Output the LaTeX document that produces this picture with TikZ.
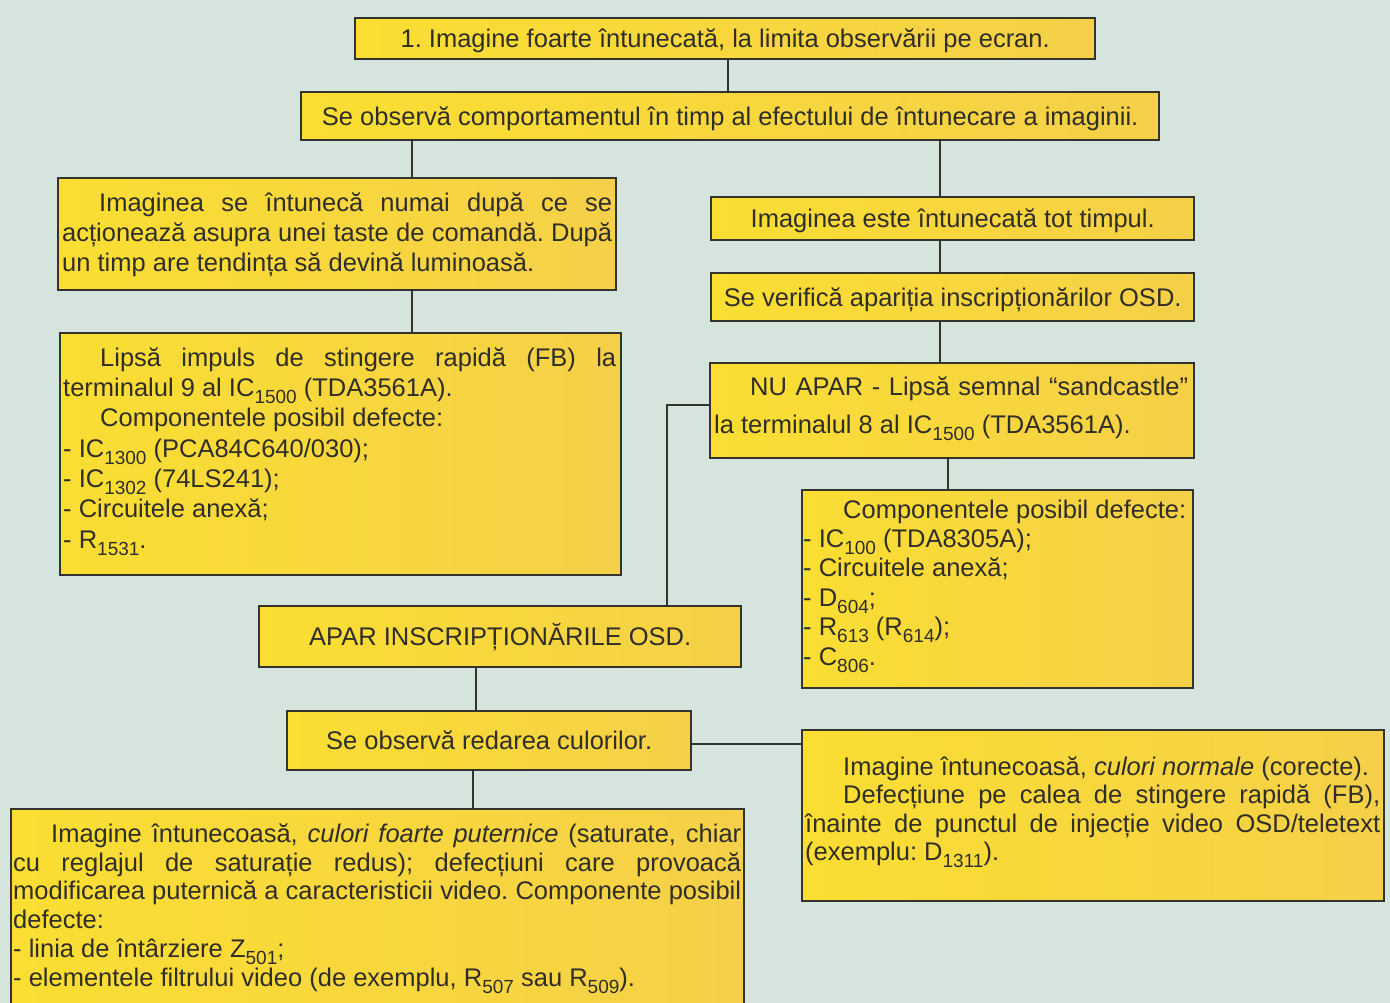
\documentclass[tikz,border=0pt]{standalone}
\usepackage{fontspec}
\setmainfont{Liberation Sans}
\definecolor{bgc}{RGB}{214,228,222}
\definecolor{yl}{RGB}{250,222,50}
\definecolor{yr}{RGB}{245,208,72}
\definecolor{bordc}{RGB}{52,52,46}
\definecolor{txtc}{RGB}{48,46,40}
\newcommand\sbx[1]{\raisebox{-7pt}{\fontsize{19}{19}\selectfont #1}}
\newcommand\jl[2]{\makebox[#1][s]{#2}}
\frenchspacing
\begin{document}
\begin{tikzpicture}[x=1pt,y=-1pt,
  box/.style={draw=bordc, line width=2.4pt, left color=yl, right color=yr, inner sep=0pt,
    anchor=north west, text=txtc, font=\fontsize{25.5}{30}\selectfont, text height=18pt, text depth=0pt},
  body/.style={anchor=north west, inner sep=0pt, align=left, text=txtc},
  wire/.style={draw=bordc, line width=2.2pt}]
\useasboundingbox (0,0) rectangle (1390,1003);
\fill[bgc] (0,0) rectangle (1390,1003);
\clip (0,0) rectangle (1390,1003);

% boxes
\node[box, minimum width=740pt, minimum height=41pt] (b1) at (354,17) {1. Imagine foarte întunecată, la limita observării pe ecran.};
\node[box, minimum width=858pt, minimum height=48pt] (b2) at (300,91) {Se observă comportamentul în timp al efectului de întunecare a imaginii.};
\node[box, minimum width=558pt, minimum height=112pt] (b3) at (57,177) {};
\node[box, minimum width=483pt, minimum height=43pt] (b4) at (710,196) {Imaginea este întunecată tot timpul.};
\node[box, minimum width=483pt, minimum height=48pt] (b5) at (710,272) {Se verifică apariția inscripționărilor OSD.};
\node[box, minimum width=484pt, minimum height=95pt] (b6) at (709,362) {};
\node[box, minimum width=391pt, minimum height=198pt] (b7) at (801,489) {};
\node[box, minimum width=561pt, minimum height=242pt] (b8) at (59,332) {};
\node[box, minimum width=482pt, minimum height=61pt] (b9) at (258,605) {APAR INSCRIPȚIONĂRILE OSD.};
\node[box, minimum width=404pt, minimum height=59pt] (b10) at (286,710) {Se observă redarea culorilor.};
\node[box, minimum width=582pt, minimum height=171pt] (b12) at (801,729) {};
\node[box, minimum width=733pt, minimum height=215pt] (b11) at (10,808) {};

% body texts
\node[body, font=\fontsize{25.5}{30.3}\selectfont, yshift=21.2pt] (t3) at (62,211) {\strut\jl{550pt}{\hspace*{37pt}Imaginea se întunecă numai după ce se}\\
\jl{550pt}{acționează asupra unei taste de comandă. După}\\
un timp are tendința să devină luminoasă.};

\node[body, font=\fontsize{25.5}{30.3}\selectfont, yshift=21.2pt] (t8) at (63,366) {\strut\jl{553pt}{\hspace*{37pt}Lipsă impuls de stingere rapidă (FB) la}\\
terminalul 9 al IC\sbx{1500} (TDA3561A).\\
\hspace*{37pt}Componentele posibil defecte:\\
- IC\sbx{1300} (PCA84C640/030);\\
- IC\sbx{1302} (74LS241);\\
- Circuitele anexă;\\
- R\sbx{1531}.};

\node[body, font=\fontsize{25.5}{38}\selectfont, yshift=26.6pt] (t6) at (714,395) {\strut\jl{474pt}{\hspace*{36pt}NU APAR - Lipsă semnal “sandcastle”}\\
la terminalul 8 al IC\sbx{1500} (TDA3561A).};

\node[body, font=\fontsize{25.5}{29.4}\selectfont, yshift=20.6pt] (t7) at (803,518) {\strut\hspace*{40pt}Componentele posibil defecte:\\
- IC\sbx{100} (TDA8305A);\\
- Circuitele anexă;\\
- D\sbx{604};\\
- R\sbx{613} (R\sbx{614});\\
- C\sbx{806}.};

\node[body, font=\fontsize{25.5}{28.5}\selectfont, yshift=19.95pt] (t12) at (805,775) {\strut\hspace*{38pt}Imagine întunecoasă, \textit{culori normale} (corecte).\\
\jl{575pt}{\hspace*{38pt}Defecțiune pe calea de stingere rapidă (FB),}\\
\jl{575pt}{înainte de punctul de injecție video OSD/teletext}\\
(exemplu: D\sbx{1311}).};

\node[body, font=\fontsize{25.5}{28.8}\selectfont, yshift=20.16pt] (t11) at (13,842) {\strut\jl{728pt}{\hspace*{38pt}Imagine întunecoasă, \textit{culori foarte puternice} (saturate, chiar}\\
\jl{728pt}{cu reglajul de saturație redus); defecțiuni care provoacă}\\
\jl{728pt}{modificarea puternică a caracteristicii video. Componente posibil}\\
defecte:\\
- linia de întârziere Z\sbx{501};\\
- elementele filtrului video (de exemplu, R\sbx{507} sau R\sbx{509}).};

% connector guides
\coordinate (k1) at (728,0);
\coordinate (kL) at (412,0);
\coordinate (kR) at (940,0);
\coordinate (k7) at (948,0);
\coordinate (k8) at (667,405);
\coordinate (k9) at (476,0);
\coordinate (k10) at (0,744);
\coordinate (k11) at (473,0);

\draw[wire] (b1.south -| k1) -- (b2.north -| k1);
\draw[wire] (b2.south -| kL) -- (b3.north -| kL);
\draw[wire] (b2.south -| kR) -- (b4.north -| kR);
\draw[wire] (b4.south -| kR) -- (b5.north -| kR);
\draw[wire] (b5.south -| kR) -- (b6.north -| kR);
\draw[wire] (b3.south -| kL) -- (b8.north -| kL);
\draw[wire] (b6.south -| k7) -- (b7.north -| k7);
\draw[wire] (b6.west |- k8) -- (k8) -- (b9.north -| k8);
\draw[wire] (b9.south -| k9) -- (b10.north -| k9);
\draw[wire] (b10.east |- k10) -- (b12.west |- k10);
\draw[wire] (b10.south -| k11) -- (b11.north -| k11);
\end{tikzpicture}
\end{document}
